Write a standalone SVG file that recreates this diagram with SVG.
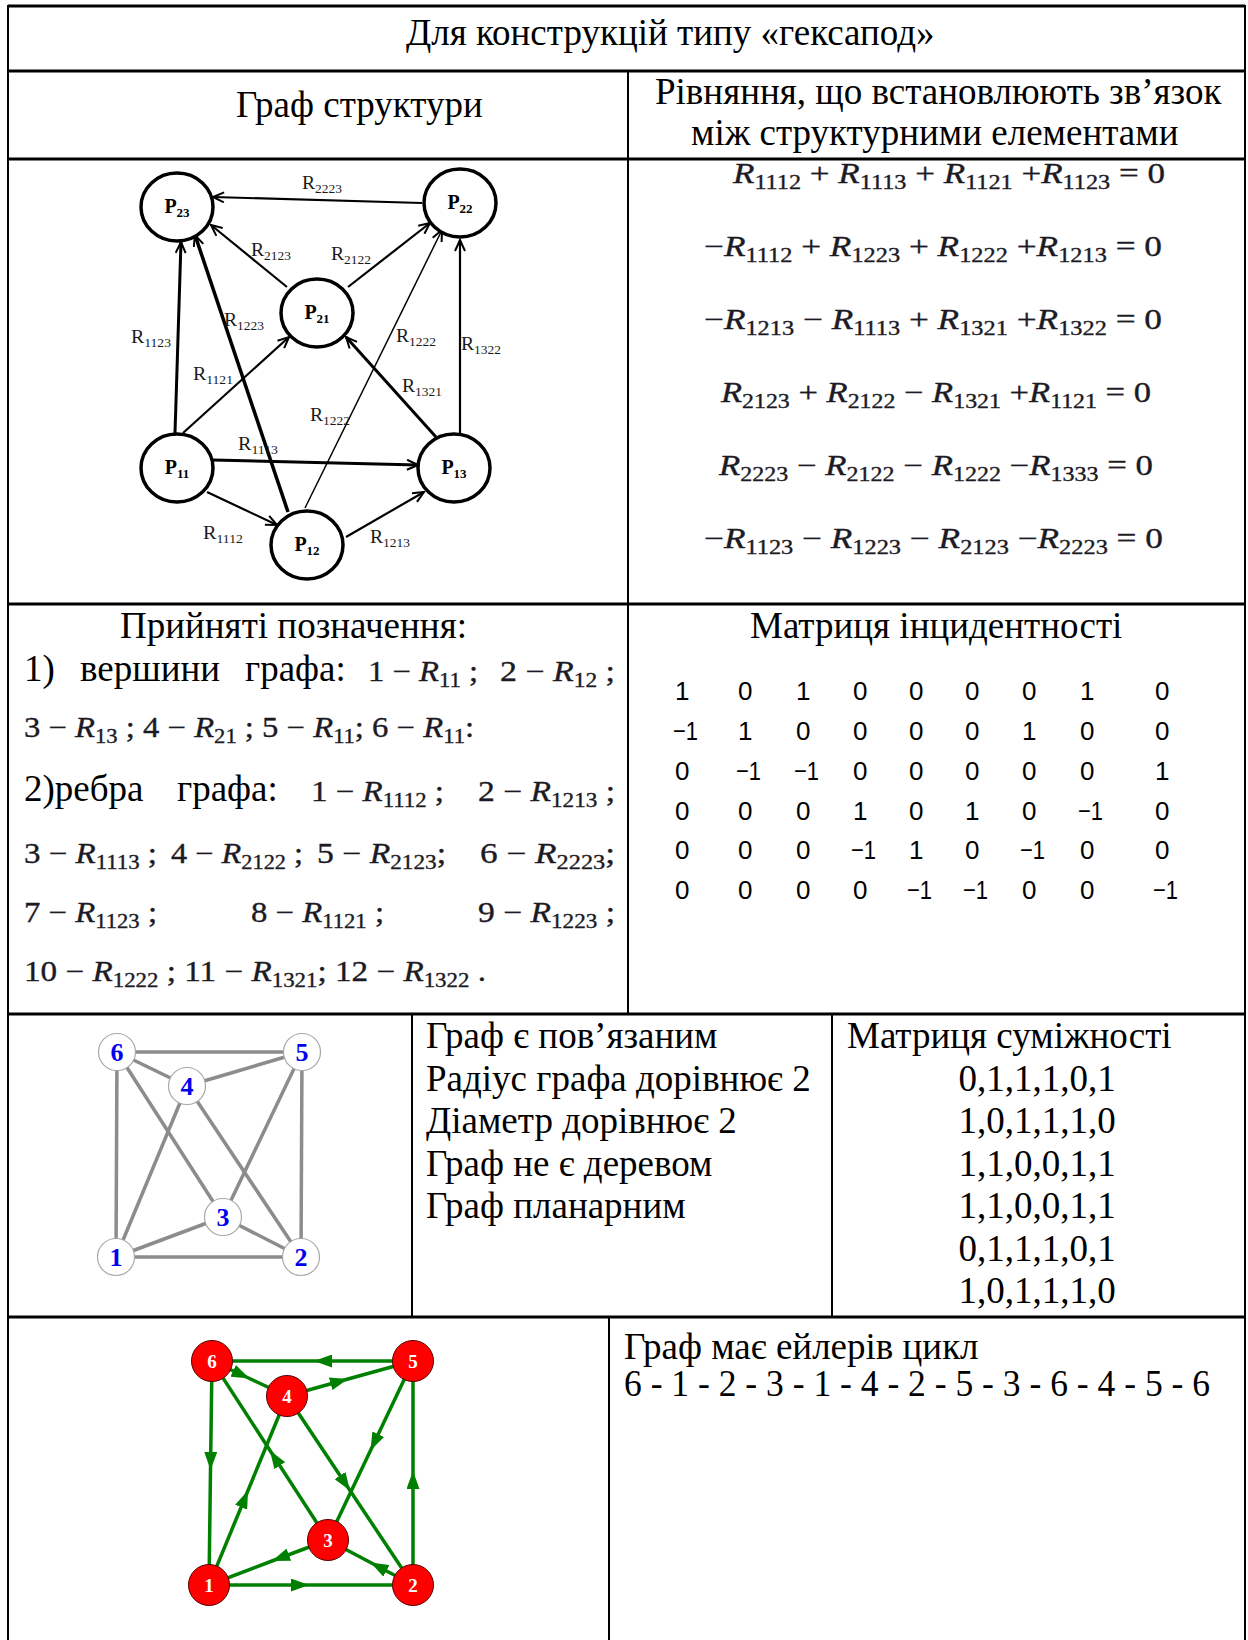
<svg xmlns="http://www.w3.org/2000/svg" width="1248" height="1640" viewBox="0 0 1248 1640">
<style>
.t{font-family:"Liberation Serif","Times New Roman",serif;font-size:37px;fill:#000}
.m{font-family:"Liberation Serif","Times New Roman",serif;font-size:29px;fill:#1c1a24;stroke:#1c1a24;stroke-width:0.35}
.i{font-style:italic}
.s{font-size:20px}
.lb{font-family:"Liberation Serif",serif;font-size:19px;fill:#1a1a1a}
.ls{font-size:13px}
.pn{font-family:"Liberation Serif",serif;font-size:20px;font-weight:bold;fill:#000;text-anchor:middle}
.ps{font-size:13px}
.mx{font-family:"Liberation Sans",Arial,sans-serif;font-size:26px;fill:#000}
.hl{stroke:#000;stroke-width:3}
.vl{stroke:#000;stroke-width:2}
.e1{stroke:#000;stroke-width:2.2;fill:none;marker-end:url(#oa)}
.n1{fill:#fff;stroke:#000;stroke-width:3.5}
.e2{stroke:#8c8c8c;stroke-width:3.5}
.n2{fill:#fff;stroke:#a8a8a8;stroke-width:1.2}
.l2{font-family:"Liberation Serif",serif;font-size:26px;font-weight:bold;fill:#0000ee;text-anchor:middle}
.e3{stroke:#008000;stroke-width:3.5;fill:none;marker-mid:url(#ga)}
.n3{fill:#ff0000;stroke:#5a0000;stroke-width:1}
.l3{font-family:"Liberation Serif",serif;font-size:19px;font-weight:bold;fill:#fff;text-anchor:middle}
</style>
<defs>
<marker id="oa" markerUnits="userSpaceOnUse" markerWidth="14" markerHeight="12" viewBox="0 0 14 12" refX="12" refY="6" orient="auto"><path d="M1,1 L12,6 L1,11" fill="none" stroke="#000" stroke-width="2"/></marker>
<marker id="ga" markerUnits="userSpaceOnUse" markerWidth="18" markerHeight="13" viewBox="0 0 18 13" refX="18" refY="6.5" orient="auto"><path d="M0,0 L18,6.5 L0,13 z" fill="#008000"/></marker>
</defs>
<rect width="1248" height="1640" fill="#fff"/>

<g id="table">
<line class="hl" x1="8" y1="6" x2="1245" y2="6"/>
<line class="hl" x1="8" y1="71" x2="1245" y2="71"/>
<line class="hl" x1="8" y1="159" x2="1245" y2="159"/>
<line class="hl" x1="8" y1="604" x2="1245" y2="604"/>
<line class="hl" x1="8" y1="1014" x2="1245" y2="1014"/>
<line class="hl" x1="8" y1="1317" x2="1245" y2="1317"/>
<line class="vl" x1="8" y1="5" x2="8" y2="1640"/>
<line class="vl" x1="1245" y1="5" x2="1245" y2="1640"/>
<line class="vl" x1="628" y1="71" x2="628" y2="1014"/>
<line class="vl" x1="412" y1="1014" x2="412" y2="1317"/>
<line class="vl" x1="832" y1="1014" x2="832" y2="1317"/>
<line class="vl" x1="609" y1="1317" x2="609" y2="1640"/>
</g>

<g id="headers">
<text class="t" x="406" y="45">Для конструкцій типу «гексапод»</text>
<text class="t" x="236" y="117">Граф структури</text>
<text class="t" x="655" y="104">Рівняння, що встановлюють зв’язок</text>
<text class="t" x="691" y="145">між структурними елементами</text>
</g>

<g id="graph1-edges">
<line class="e1" x1="422" y1="203" x2="213" y2="197"/>
<line class="e1" x1="287" y1="287" x2="211" y2="225"/>
<line class="e1" x1="348" y1="287" x2="430" y2="223"/>
<line class="e1" x1="175" y1="433" x2="181" y2="242" style="stroke-width:3"/>
<line class="e1" x1="288" y1="512" x2="195" y2="235" style="stroke-width:3.5"/>
<line class="e1" x1="183" y1="433" x2="289" y2="337"/>
<line class="e1" x1="305" y1="508" x2="442" y2="230" style="stroke-width:1.5"/>
<line class="e1" x1="436" y1="437" x2="346" y2="337" style="stroke-width:3"/>
<line class="e1" x1="460" y1="433" x2="460" y2="240"/>
<line class="e1" x1="213" y1="460" x2="418" y2="465" style="stroke-width:3"/>
<line class="e1" x1="207" y1="492" x2="277" y2="525"/>
<line class="e1" x1="346" y1="537" x2="424" y2="492"/>
</g>
<g id="graph1-labels">
<text class="lb" x="302" y="189" textLength="40" lengthAdjust="spacingAndGlyphs">R<tspan class="ls" dy="4">2223</tspan></text>
<text class="lb" x="251" y="256" textLength="40" lengthAdjust="spacingAndGlyphs">R<tspan class="ls" dy="4">2123</tspan></text>
<text class="lb" x="331" y="260" textLength="40" lengthAdjust="spacingAndGlyphs">R<tspan class="ls" dy="4">2122</tspan></text>
<text class="lb" x="131" y="343" textLength="40" lengthAdjust="spacingAndGlyphs">R<tspan class="ls" dy="4">1123</tspan></text>
<text class="lb" x="224" y="326" textLength="40" lengthAdjust="spacingAndGlyphs">R<tspan class="ls" dy="4">1223</tspan></text>
<text class="lb" x="396" y="342" textLength="40" lengthAdjust="spacingAndGlyphs">R<tspan class="ls" dy="4">1222</tspan></text>
<text class="lb" x="461" y="350" textLength="40" lengthAdjust="spacingAndGlyphs">R<tspan class="ls" dy="4">1322</tspan></text>
<text class="lb" x="193" y="380" textLength="40" lengthAdjust="spacingAndGlyphs">R<tspan class="ls" dy="4">1121</tspan></text>
<text class="lb" x="402" y="392" textLength="40" lengthAdjust="spacingAndGlyphs">R<tspan class="ls" dy="4">1321</tspan></text>
<text class="lb" x="310" y="421" textLength="40" lengthAdjust="spacingAndGlyphs">R<tspan class="ls" dy="4">1222</tspan></text>
<text class="lb" x="238" y="450" textLength="40" lengthAdjust="spacingAndGlyphs">R<tspan class="ls" dy="4">1113</tspan></text>
<text class="lb" x="203" y="539" textLength="40" lengthAdjust="spacingAndGlyphs">R<tspan class="ls" dy="4">1112</tspan></text>
<text class="lb" x="370" y="543" textLength="40" lengthAdjust="spacingAndGlyphs">R<tspan class="ls" dy="4">1213</tspan></text>
</g>
<g id="P23"><ellipse class="n1" cx="177" cy="207" rx="36" ry="34"/><text class="pn" x="177" y="213">P<tspan class="ps" dy="4">23</tspan></text></g>
<g id="P22"><ellipse class="n1" cx="460" cy="203" rx="36" ry="34"/><text class="pn" x="460" y="209">P<tspan class="ps" dy="4">22</tspan></text></g>
<g id="P21"><ellipse class="n1" cx="317" cy="313" rx="36" ry="34"/><text class="pn" x="317" y="319">P<tspan class="ps" dy="4">21</tspan></text></g>
<g id="P11"><ellipse class="n1" cx="177" cy="468" rx="36" ry="34"/><text class="pn" x="177" y="474">P<tspan class="ps" dy="4">11</tspan></text></g>
<g id="P13"><ellipse class="n1" cx="454" cy="468" rx="36" ry="34"/><text class="pn" x="454" y="474">P<tspan class="ps" dy="4">13</tspan></text></g>
<g id="P12"><ellipse class="n1" cx="307" cy="545" rx="36" ry="34"/><text class="pn" x="307" y="551">P<tspan class="ps" dy="4">12</tspan></text></g>

<g id="equations">
<text class="m" x="733" y="183" textLength="432" lengthAdjust="spacingAndGlyphs"><tspan class="i">R</tspan><tspan class="s" dy="6">1112</tspan><tspan dy="-6">  + </tspan><tspan class="i">R</tspan><tspan class="s" dy="6">1113</tspan><tspan dy="-6"> + </tspan><tspan class="i">R</tspan><tspan class="s" dy="6">1121</tspan><tspan dy="-6"> +</tspan><tspan class="i">R</tspan><tspan class="s" dy="6">1123</tspan><tspan dy="-6"> = 0</tspan></text>
<text class="m" x="704" y="256" textLength="458" lengthAdjust="spacingAndGlyphs">−<tspan class="i">R</tspan><tspan class="s" dy="6">1112</tspan><tspan dy="-6"> + </tspan><tspan class="i">R</tspan><tspan class="s" dy="6">1223</tspan><tspan dy="-6"> + </tspan><tspan class="i">R</tspan><tspan class="s" dy="6">1222</tspan><tspan dy="-6"> +</tspan><tspan class="i">R</tspan><tspan class="s" dy="6">1213</tspan><tspan dy="-6"> = 0</tspan></text>
<text class="m" x="704" y="329" textLength="458" lengthAdjust="spacingAndGlyphs">−<tspan class="i">R</tspan><tspan class="s" dy="6">1213</tspan><tspan dy="-6"> − </tspan><tspan class="i">R</tspan><tspan class="s" dy="6">1113</tspan><tspan dy="-6"> + </tspan><tspan class="i">R</tspan><tspan class="s" dy="6">1321</tspan><tspan dy="-6"> +</tspan><tspan class="i">R</tspan><tspan class="s" dy="6">1322</tspan><tspan dy="-6"> = 0</tspan></text>
<text class="m" x="721" y="402" textLength="430" lengthAdjust="spacingAndGlyphs"><tspan class="i">R</tspan><tspan class="s" dy="6">2123</tspan><tspan dy="-6"> + </tspan><tspan class="i">R</tspan><tspan class="s" dy="6">2122</tspan><tspan dy="-6"> − </tspan><tspan class="i">R</tspan><tspan class="s" dy="6">1321</tspan><tspan dy="-6"> +</tspan><tspan class="i">R</tspan><tspan class="s" dy="6">1121</tspan><tspan dy="-6"> = 0</tspan></text>
<text class="m" x="719" y="475" textLength="434" lengthAdjust="spacingAndGlyphs"><tspan class="i">R</tspan><tspan class="s" dy="6">2223</tspan><tspan dy="-6"> − </tspan><tspan class="i">R</tspan><tspan class="s" dy="6">2122</tspan><tspan dy="-6"> − </tspan><tspan class="i">R</tspan><tspan class="s" dy="6">1222</tspan><tspan dy="-6"> −</tspan><tspan class="i">R</tspan><tspan class="s" dy="6">1333</tspan><tspan dy="-6"> = 0</tspan></text>
<text class="m" x="704" y="548" textLength="459" lengthAdjust="spacingAndGlyphs">−<tspan class="i">R</tspan><tspan class="s" dy="6">1123</tspan><tspan dy="-6"> − </tspan><tspan class="i">R</tspan><tspan class="s" dy="6">1223</tspan><tspan dy="-6"> − </tspan><tspan class="i">R</tspan><tspan class="s" dy="6">2123</tspan><tspan dy="-6"> −</tspan><tspan class="i">R</tspan><tspan class="s" dy="6">2223</tspan><tspan dy="-6"> = 0</tspan></text>
</g>

<g id="notation">
<text class="t" x="120" y="638">Прийняті позначення:</text>
<text class="t" x="24" y="681">1)</text>
<text class="t" x="80" y="681">вершини</text>
<text class="t" x="245" y="681">графа:</text>
<text class="m" x="368" y="681" textLength="110" lengthAdjust="spacingAndGlyphs">1 − <tspan class="i">R</tspan><tspan class="s" dy="6">11</tspan><tspan dy="-6"> ;</tspan></text>
<text class="m" x="500" y="681" textLength="115" lengthAdjust="spacingAndGlyphs">2 − <tspan class="i">R</tspan><tspan class="s" dy="6">12</tspan><tspan dy="-6"> ;</tspan></text>
<text class="m" x="24" y="737" textLength="450" lengthAdjust="spacingAndGlyphs">3 − <tspan class="i">R</tspan><tspan class="s" dy="6">13</tspan><tspan dy="-6"> ; 4 − </tspan><tspan class="i">R</tspan><tspan class="s" dy="6">21</tspan><tspan dy="-6"> ; 5 − </tspan><tspan class="i">R</tspan><tspan class="s" dy="6">11</tspan><tspan dy="-6">; 6 − </tspan><tspan class="i">R</tspan><tspan class="s" dy="6">11</tspan><tspan dy="-6">:</tspan></text>
<text class="t" x="24" y="801">2)ребра</text>
<text class="t" x="177" y="801">графа:</text>
<text class="m" x="311" y="801" textLength="133" lengthAdjust="spacingAndGlyphs">1 − <tspan class="i">R</tspan><tspan class="s" dy="6">1112</tspan><tspan dy="-6"> ;</tspan></text>
<text class="m" x="478" y="801" textLength="137" lengthAdjust="spacingAndGlyphs">2 − <tspan class="i">R</tspan><tspan class="s" dy="6">1213</tspan><tspan dy="-6"> ;</tspan></text>
<text class="m" x="24" y="863" textLength="133" lengthAdjust="spacingAndGlyphs">3 − <tspan class="i">R</tspan><tspan class="s" dy="6">1113</tspan><tspan dy="-6"> ;</tspan></text>
<text class="m" x="171" y="863" textLength="132" lengthAdjust="spacingAndGlyphs">4 − <tspan class="i">R</tspan><tspan class="s" dy="6">2122</tspan><tspan dy="-6"> ;</tspan></text>
<text class="m" x="317" y="863" textLength="129" lengthAdjust="spacingAndGlyphs">5 − <tspan class="i">R</tspan><tspan class="s" dy="6">2123</tspan><tspan dy="-6">;</tspan></text>
<text class="m" x="480" y="863" textLength="135" lengthAdjust="spacingAndGlyphs">6 − <tspan class="i">R</tspan><tspan class="s" dy="6">2223</tspan><tspan dy="-6">;</tspan></text>
<text class="m" x="24" y="922" textLength="133" lengthAdjust="spacingAndGlyphs">7 − <tspan class="i">R</tspan><tspan class="s" dy="6">1123</tspan><tspan dy="-6"> ;</tspan></text>
<text class="m" x="251" y="922" textLength="133" lengthAdjust="spacingAndGlyphs">8 − <tspan class="i">R</tspan><tspan class="s" dy="6">1121</tspan><tspan dy="-6"> ;</tspan></text>
<text class="m" x="478" y="922" textLength="137" lengthAdjust="spacingAndGlyphs">9 − <tspan class="i">R</tspan><tspan class="s" dy="6">1223</tspan><tspan dy="-6"> ;</tspan></text>
<text class="m" x="24" y="981" textLength="462" lengthAdjust="spacingAndGlyphs">10 − <tspan class="i">R</tspan><tspan class="s" dy="6">1222</tspan><tspan dy="-6"> ; 11 − </tspan><tspan class="i">R</tspan><tspan class="s" dy="6">1321</tspan><tspan dy="-6">; 12 − </tspan><tspan class="i">R</tspan><tspan class="s" dy="6">1322</tspan><tspan dy="-6"> .</tspan></text>
</g>

<g id="incidence">
<text class="t" x="750" y="638">Матриця інцидентності</text>
<g class="mx">
<text x="675" y="700">1</text><text x="738" y="700">0</text><text x="796" y="700">1</text><text x="853" y="700">0</text><text x="909" y="700">0</text><text x="965" y="700">0</text><text x="1022" y="700">0</text><text x="1080" y="700">1</text><text x="1155" y="700">0</text>
<text x="673" y="740" textLength="25" lengthAdjust="spacingAndGlyphs">−1</text><text x="738" y="740">1</text><text x="796" y="740">0</text><text x="853" y="740">0</text><text x="909" y="740">0</text><text x="965" y="740">0</text><text x="1022" y="740">1</text><text x="1080" y="740">0</text><text x="1155" y="740">0</text>
<text x="675" y="780">0</text><text x="736" y="780" textLength="25" lengthAdjust="spacingAndGlyphs">−1</text><text x="794" y="780" textLength="25" lengthAdjust="spacingAndGlyphs">−1</text><text x="853" y="780">0</text><text x="909" y="780">0</text><text x="965" y="780">0</text><text x="1022" y="780">0</text><text x="1080" y="780">0</text><text x="1155" y="780">1</text>
<text x="675" y="820">0</text><text x="738" y="820">0</text><text x="796" y="820">0</text><text x="853" y="820">1</text><text x="909" y="820">0</text><text x="965" y="820">1</text><text x="1022" y="820">0</text><text x="1078" y="820" textLength="25" lengthAdjust="spacingAndGlyphs">−1</text><text x="1155" y="820">0</text>
<text x="675" y="859">0</text><text x="738" y="859">0</text><text x="796" y="859">0</text><text x="851" y="859" textLength="25" lengthAdjust="spacingAndGlyphs">−1</text><text x="909" y="859">1</text><text x="965" y="859">0</text><text x="1020" y="859" textLength="25" lengthAdjust="spacingAndGlyphs">−1</text><text x="1080" y="859">0</text><text x="1155" y="859">0</text>
<text x="675" y="899">0</text><text x="738" y="899">0</text><text x="796" y="899">0</text><text x="853" y="899">0</text><text x="907" y="899" textLength="25" lengthAdjust="spacingAndGlyphs">−1</text><text x="963" y="899" textLength="25" lengthAdjust="spacingAndGlyphs">−1</text><text x="1022" y="899">0</text><text x="1080" y="899">0</text><text x="1153" y="899" textLength="25" lengthAdjust="spacingAndGlyphs">−1</text>
</g>
</g>

<g id="graph2-edges">
<line class="e2" x1="117" y1="1052" x2="302" y2="1052"/>
<line class="e2" x1="117" y1="1052" x2="187" y2="1086"/>
<line class="e2" x1="117" y1="1052" x2="116" y2="1257"/>
<line class="e2" x1="117" y1="1052" x2="223" y2="1217"/>
<line class="e2" x1="187" y1="1086" x2="302" y2="1052"/>
<line class="e2" x1="187" y1="1086" x2="116" y2="1257"/>
<line class="e2" x1="187" y1="1086" x2="301" y2="1257"/>
<line class="e2" x1="302" y1="1052" x2="223" y2="1217"/>
<line class="e2" x1="302" y1="1052" x2="301" y2="1257"/>
<line class="e2" x1="223" y1="1217" x2="116" y2="1257"/>
<line class="e2" x1="223" y1="1217" x2="301" y2="1257"/>
<line class="e2" x1="116" y1="1257" x2="301" y2="1257"/>
</g>
<g id="g2-n6"><circle class="n2" cx="117" cy="1052" r="18.5"/><text class="l2" x="117" y="1061">6</text></g>
<g id="g2-n5"><circle class="n2" cx="302" cy="1052" r="18.5"/><text class="l2" x="302" y="1061">5</text></g>
<g id="g2-n4"><circle class="n2" cx="187" cy="1086" r="18.5"/><text class="l2" x="187" y="1095">4</text></g>
<g id="g2-n3"><circle class="n2" cx="223" cy="1217" r="18.5"/><text class="l2" x="223" y="1226">3</text></g>
<g id="g2-n1"><circle class="n2" cx="116" cy="1257" r="18.5"/><text class="l2" x="116" y="1266">1</text></g>
<g id="g2-n2"><circle class="n2" cx="301" cy="1257" r="18.5"/><text class="l2" x="301" y="1266">2</text></g>

<g id="properties">
<text class="t" x="426" y="1048">Граф є пов’язаним</text>
<text class="t" x="426" y="1091">Радіус графа дорівнює 2</text>
<text class="t" x="426" y="1133">Діаметр дорівнює 2</text>
<text class="t" x="426" y="1176">Граф не є деревом</text>
<text class="t" x="426" y="1218">Граф планарним</text>
</g>
<g id="adjacency">
<text class="t" x="847" y="1048">Матриця суміжності</text>
<g class="t" text-anchor="middle">
<text x="1037" y="1091">0,1,1,1,0,1</text>
<text x="1037" y="1133">1,0,1,1,1,0</text>
<text x="1037" y="1176">1,1,0,0,1,1</text>
<text x="1037" y="1218">1,1,0,0,1,1</text>
<text x="1037" y="1261">0,1,1,1,0,1</text>
<text x="1037" y="1303">1,0,1,1,1,0</text>
</g>
</g>

<g id="graph3-edges">
<path class="e3" d="M212,1361 L210.5,1470 L209,1585"/>
<path class="e3" d="M209,1585 L309,1585 L413,1585"/>
<path class="e3" d="M413,1585 L370.5,1562.5 L328,1540"/>
<path class="e3" d="M328,1540 L272,1561 L209,1585"/>
<path class="e3" d="M209,1585 L248,1490.5 L287,1396"/>
<path class="e3" d="M287,1396 L350,1490.5 L413,1585"/>
<path class="e3" d="M413,1585 L413,1471 L413,1361"/>
<path class="e3" d="M413,1361 L370.5,1450.5 L328,1540"/>
<path class="e3" d="M328,1540 L270,1450.5 L212,1361"/>
<path class="e3" d="M212,1361 L249.5,1378.5 L287,1396"/>
<path class="e3" d="M287,1396 L348,1379 L413,1361"/>
<path class="e3" d="M413,1361 L314,1361 L212,1361"/>
</g>
<g id="g3-n6"><circle class="n3" cx="212" cy="1361" r="20.5"/><text class="l3" x="212" y="1368">6</text></g>
<g id="g3-n5"><circle class="n3" cx="413" cy="1361" r="20.5"/><text class="l3" x="413" y="1368">5</text></g>
<g id="g3-n4"><circle class="n3" cx="287" cy="1396" r="20.5"/><text class="l3" x="287" y="1403">4</text></g>
<g id="g3-n3"><circle class="n3" cx="328" cy="1540" r="20.5"/><text class="l3" x="328" y="1547">3</text></g>
<g id="g3-n1"><circle class="n3" cx="209" cy="1585" r="20.5"/><text class="l3" x="209" y="1592">1</text></g>
<g id="g3-n2"><circle class="n3" cx="413" cy="1585" r="20.5"/><text class="l3" x="413" y="1592">2</text></g>

<g id="euler">
<text class="t" x="624" y="1359">Граф має ейлерів цикл</text>
<text class="t" x="624" y="1396" textLength="586" lengthAdjust="spacingAndGlyphs">6 - 1 - 2 - 3 - 1 - 4 - 2 - 5 - 3 - 6 - 4 - 5 - 6</text>
</g>
</svg>
